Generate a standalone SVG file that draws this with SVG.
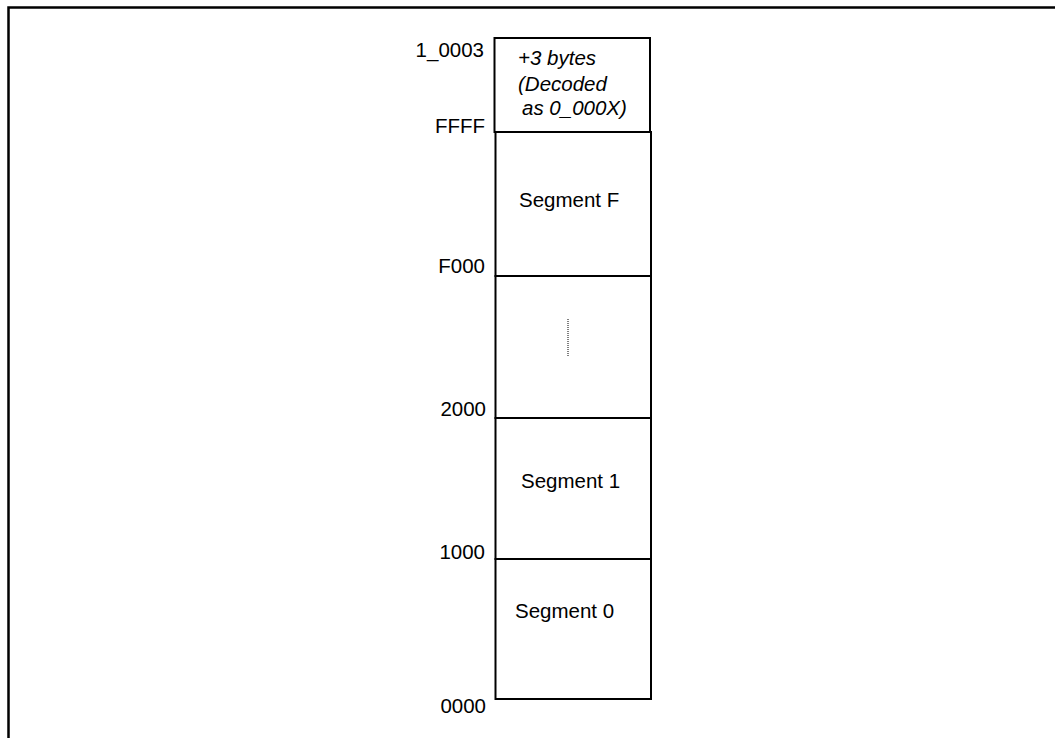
<svg xmlns="http://www.w3.org/2000/svg" width="1055" height="738" viewBox="0 0 1055 738">
<style>
.box{fill:#fff;stroke:#000;stroke-width:2}
.lbl{font-family:"Liberation Sans",Arial,sans-serif;font-size:20.5px;fill:#000}
.addr{text-anchor:end}
.it{font-style:italic}
</style>
<rect width="1055" height="738" fill="#fff"/>
<g id="frame">
<path d="M8.5,738 V7.5 H1055" fill="none" stroke="#000" stroke-width="2.5"/>
</g>
<g id="seg-top">
<rect class="box" x="494.5" y="38" width="155.5" height="94"/>
<text class="lbl it" x="518" y="65">+3 bytes</text>
<text class="lbl it" x="518" y="91">(Decoded</text>
<text class="lbl it" x="522" y="115">as 0_000X)</text>
</g>
<g id="seg-f">
<rect class="box" x="495.5" y="132" width="155.5" height="144"/>
<text class="lbl" x="519" y="207">Segment F</text>
</g>
<g id="seg-mid">
<rect class="box" x="495.5" y="276" width="155.5" height="142"/>
<line x1="568" y1="319" x2="568" y2="356" stroke="#000" stroke-width="1" stroke-dasharray="1,1"/>
</g>
<g id="seg-1">
<rect class="box" x="495.5" y="418" width="155.5" height="141"/>
<text class="lbl" x="521" y="488">Segment 1</text>
</g>
<g id="seg-0">
<rect class="box" x="495.5" y="559" width="155.5" height="140"/>
<text class="lbl" x="515" y="618">Segment 0</text>
</g>
<g id="addresses">
<text class="lbl addr" x="484" y="57">1_0003</text>
<text class="lbl addr" x="485" y="133">FFFF</text>
<text class="lbl addr" x="485" y="273">F000</text>
<text class="lbl addr" x="486" y="416">2000</text>
<text class="lbl addr" x="485" y="559">1000</text>
<text class="lbl addr" x="486" y="713">0000</text>
</g>
</svg>
